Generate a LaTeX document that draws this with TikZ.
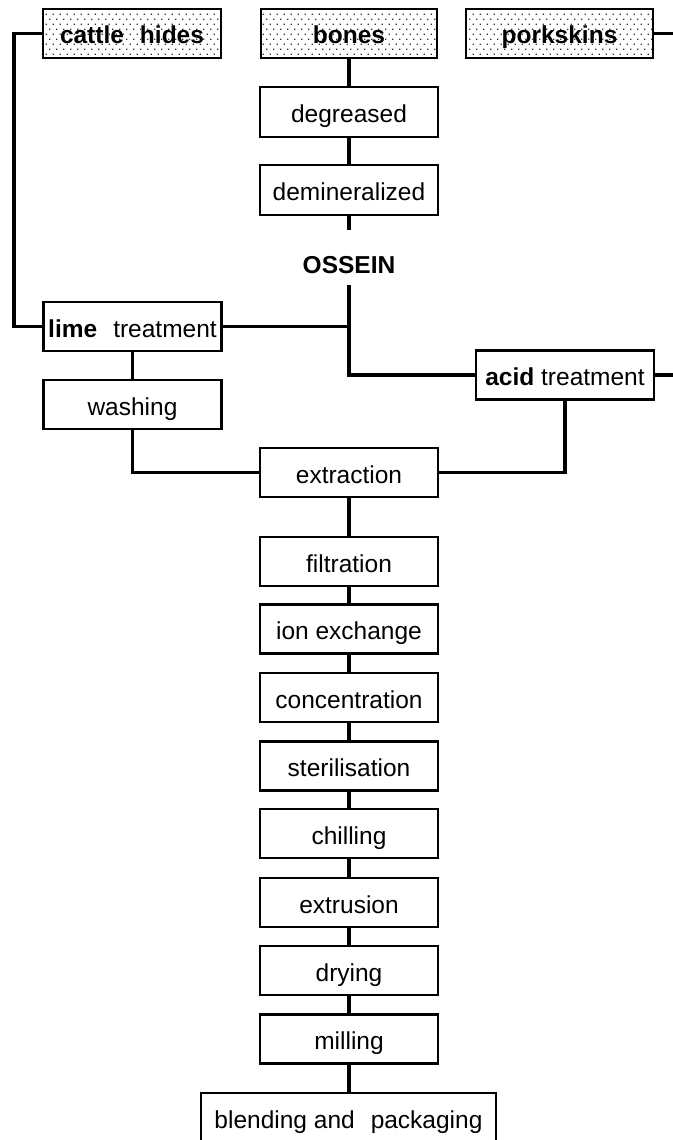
\documentclass[tikz,border=0pt]{standalone}
\usepackage{fontspec}
\setmainfont{Liberation Sans}
\usetikzlibrary{patterns}
\pgfdeclarepatternformonly{boxdots}{\pgfqpoint{-1pt}{-1pt}}{\pgfqpoint{8pt}{11pt}}{\pgfqpoint{7pt}{10pt}}{%
  \pgfpathrectangle{\pgfqpoint{0pt}{0pt}}{\pgfqpoint{1.4pt}{1.4pt}}%
  \pgfpathrectangle{\pgfqpoint{3.5pt}{5pt}}{\pgfqpoint{1.4pt}{1.4pt}}%
  \pgfusepath{fill}}
\tikzset{
  box/.style={draw, line width=2.2pt, minimum width=178pt, minimum height=49pt, inner sep=0pt,
    text height=26pt, text depth=5pt, font=\fontsize{24.5}{29}\selectfont},
  srcbox/.style={box, pattern=boxdots, pattern color=black!80, font=\fontsize{24.5}{29}\selectfont\bfseries},
  conn/.style={line width=3.3pt},
  lbl/.style={inner sep=0pt, font=\fontsize{24.5}{29}\selectfont\bfseries}
}
\begin{document}
\begin{tikzpicture}[x=1pt,y=-1pt]
\useasboundingbox (0,0) rectangle (672,1140);
% source boxes
\node[srcbox] (cattle) at (132,33.5) {cattle\hspace{16pt}hides};
\node[srcbox, minimum width=176pt] (bones) at (349,33.5) {bones};
\node[srcbox, minimum width=187pt] (pork) at (559.5,33.5) {porkskins};
% bone branch
\node[box, minimum height=50pt] (degr) at (349,112) {degreased};
\node[box, minimum height=50pt] (demin) at (349,190) {demineralized};
\node[lbl] (ossein) at (349,265) {OSSEIN};
\coordinate (o1) at (349,230);
\coordinate (o2) at (349,285);
\coordinate (ob) at (349,375);
% treatments
\node[box] (lime) at (132.5,326.5) {\textbf{lime}\hspace{16pt}treatment};
\node[box] (wash) at (132.5,404.5) {washing};
\node[box] (acid) at (565,375) {\textbf{acid} treatment};
% chain
\node[box] (extr) at (349,472.5) {extraction};
\node[box] (filt) at (349,561.5) {filtration};
\node[box] (ion) at (349,629) {ion exchange};
\node[box] (conc) at (349,697.5) {concentration};
\node[box] (ster) at (349,766) {sterilisation};
\node[box] (chill) at (349,833.5) {chilling};
\node[box] (extru) at (349,902.5) {extrusion};
\node[box] (dry) at (349,970.5) {drying};
\node[box] (mill) at (349,1039) {milling};
\node[box, minimum width=295pt] (blend) at (348.5,1117.5) {blending and\hspace{16pt}packaging};
% connectors
\coordinate (cl) at (14,33.5);
\coordinate (pr) at (676,33.5);
\draw[conn] (cattle.west) -- (cl) |- (lime.west);
\draw[conn] (pork.east) -- (pr) |- (acid.east);
\draw[conn] (bones) -- (degr);
\draw[conn] (degr) -- (demin);
\draw[conn] (demin.south) -- (o1);
\draw[conn] (o2) -- (ob) -- (acid.west);
\draw[conn] (lime.east) -- (lime.east -| o2);
\draw[conn] (wash.south) |- (extr.west);
\draw[conn] (acid.south) |- (extr.east);
\draw[conn] (lime) -- (wash);
\draw[conn] (extr) -- (filt);
\draw[conn] (filt) -- (ion);
\draw[conn] (ion) -- (conc);
\draw[conn] (conc) -- (ster);
\draw[conn] (ster) -- (chill);
\draw[conn] (chill) -- (extru);
\draw[conn] (extru) -- (dry);
\draw[conn] (dry) -- (mill);
\draw[conn] (mill) -- (mill |- blend.north);
\end{tikzpicture}
\end{document}
